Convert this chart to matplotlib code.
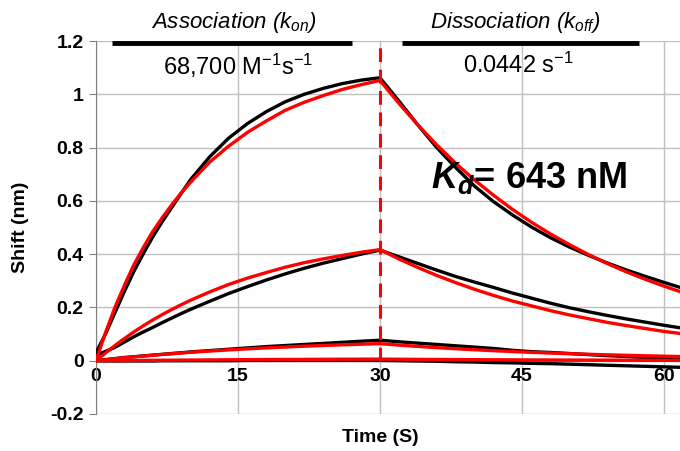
import matplotlib
matplotlib.use("Agg")
import matplotlib.pyplot as plt
import numpy as np

plt.rcParams['font.family'] = ['Liberation Sans', 'DejaVu Sans']
plt.rcParams['mathtext.fontset'] = 'custom'
plt.rcParams['mathtext.rm'] = 'Liberation Sans'
plt.rcParams['mathtext.it'] = 'Liberation Sans:italic'
plt.rcParams['mathtext.bf'] = 'Liberation Sans:bold'
plt.rcParams['mathtext.bfit'] = 'Liberation Sans:bold:italic'

# time axis (s)
t_assoc = [0, 1, 2, 3, 4, 5, 6, 7, 8, 9, 10, 12, 14, 16, 18, 20, 22, 24, 26, 28, 30]
t_dissoc = [30, 32, 34, 36, 38, 40, 42, 44, 46, 48, 50, 52, 54, 56, 58, 60, 62]

# measured (black) traces, highest to lowest concentration
data_assoc = [
    [0.03, 0.1, 0.18, 0.26, 0.335, 0.402, 0.465, 0.522, 0.575, 0.628, 0.68, 0.765, 0.835, 0.89, 0.935, 0.972, 1.0, 1.022, 1.04, 1.053, 1.062],
    [0.02, 0.035, 0.05, 0.07, 0.09, 0.108, 0.125, 0.143, 0.16, 0.177, 0.193, 0.223, 0.252, 0.278, 0.303, 0.326, 0.347, 0.366, 0.383, 0.4, 0.415],
    [0.0, 0.004, 0.008, 0.012, 0.015, 0.018, 0.021, 0.024, 0.027, 0.030, 0.033, 0.038, 0.043, 0.048, 0.053, 0.057, 0.061, 0.065, 0.069, 0.073, 0.077],
    [0.0, -0.001, -0.001, -0.001, -0.001, -0.001, -0.001, 0.0, 0.0, 0.0, 0.0, 0.0, 0.0, 0.001, 0.001, 0.001, 0.001, 0.001, 0.001, 0.001, 0.001],
]
data_dissoc = [
    [1.062, 0.975, 0.885, 0.80, 0.725, 0.655, 0.597, 0.547, 0.502, 0.462, 0.427, 0.396, 0.367, 0.341, 0.317, 0.294, 0.272],
    [0.415, 0.39, 0.365, 0.34, 0.316, 0.295, 0.275, 0.254, 0.235, 0.216, 0.199, 0.184, 0.17, 0.157, 0.145, 0.133, 0.122],
    [0.077, 0.071, 0.066, 0.061, 0.056, 0.051, 0.046, 0.039, 0.034, 0.031, 0.027, 0.023, 0.019, 0.016, 0.012, 0.009, 0.006],
    [0.001, 0.0, -0.001, -0.002, -0.004, -0.005, -0.007, -0.008, -0.010, -0.011, -0.013, -0.015, -0.017, -0.019, -0.021, -0.023, -0.025],
]

# global fit (red)
fit_assoc = [
    [0.0, 0.105, 0.2, 0.283, 0.36, 0.425, 0.485, 0.537, 0.585, 0.63, 0.67, 0.745, 0.805, 0.857, 0.9, 0.94, 0.97, 0.995, 1.018, 1.036, 1.052],
    [0.0, 0.029, 0.057, 0.083, 0.108, 0.131, 0.153, 0.173, 0.192, 0.21, 0.227, 0.258, 0.286, 0.31, 0.331, 0.351, 0.368, 0.382, 0.395, 0.407, 0.417],
    [0.0, 0.0038, 0.0075, 0.011, 0.0144, 0.0175, 0.0206, 0.0235, 0.0263, 0.029, 0.0316, 0.0363, 0.0406, 0.0445, 0.0481, 0.0514, 0.0545, 0.0571, 0.0597, 0.0619, 0.064],
    [0.0, 0.0003, 0.0005, 0.0008, 0.001, 0.0013, 0.0015, 0.0018, 0.002, 0.0023, 0.0025, 0.003, 0.0035, 0.004, 0.0043, 0.0047, 0.005, 0.0053, 0.0056, 0.0058, 0.006],
]
fit_dissoc = [
    [1.052, 0.966, 0.885, 0.81, 0.741, 0.678, 0.621, 0.568, 0.52, 0.476, 0.436, 0.399, 0.365, 0.334, 0.306, 0.28, 0.256],
    [0.417, 0.382, 0.35, 0.32, 0.293, 0.268, 0.245, 0.224, 0.206, 0.188, 0.172, 0.158, 0.144, 0.132, 0.121, 0.11, 0.101],
    [0.064, 0.0586, 0.0536, 0.0491, 0.0449, 0.0411, 0.0376, 0.0345, 0.0315, 0.0289, 0.0264, 0.0242, 0.0221, 0.0203, 0.0186, 0.017, 0.0156],
    [0.006, 0.0055, 0.005, 0.0046, 0.0042, 0.0039, 0.0036, 0.0033, 0.003, 0.0028, 0.0025, 0.0023, 0.0021, 0.002, 0.0018, 0.0017, 0.0015],
]

x_ticks = [0, 15, 30, 45, 60]
y_ticks = [-0.2, 0, 0.2, 0.4, 0.6, 0.8, 1, 1.2]
y_labels = ['-0.2', '0', '0.2', '0.4', '0.6', '0.8', '1', '1.2']

fig = plt.figure(figsize=(6.8, 4.51), dpi=100)
ax = fig.add_axes([96 / 680, 1 - 414 / 451, 1 - 96 / 680, (414 - 41) / 451])

# x axis sits on y=0 (set before ticks, it resets them)
for s in ['top', 'right']:
    ax.spines[s].set_visible(False)
ax.spines['left'].set_color('#808080')
ax.spines['bottom'].set_position(('data', 0))
ax.spines['bottom'].set_color('#808080')

for i in range(len(data_assoc)):
    ax.plot(t_assoc + t_dissoc[1:], data_assoc[i] + data_dissoc[i][1:], color='black', lw=2.4,
            solid_joinstyle='round', zorder=3)
for i in range(len(fit_assoc)):
    ax.plot(t_assoc + t_dissoc[1:], fit_assoc[i] + fit_dissoc[i][1:], color='#ff0000', lw=2.4,
            solid_joinstyle='round', zorder=4)

ax.plot([30, 30], [0, 1.2], color='#ff0000', lw=2.2, dashes=(4.5, 2.5), zorder=5)

ax.set_xlim(0, 61.7)
ax.set_ylim(-0.2, 1.2)
ax.set_xticks(x_ticks)
ax.set_xticklabels([str(v) for v in x_ticks], fontweight='bold', fontsize=14)
ax.set_yticks(y_ticks)
ax.set_yticklabels(y_labels, fontweight='bold', fontsize=14)
ax.grid(True, color='#c0c0c0', lw=1)
ax.set_axisbelow(True)
ax.tick_params(axis='y', length=5, color='#808080', pad=4)
ax.tick_params(axis='x', length=0, pad=5)

ax.set_ylabel('Shift (nm)', fontweight='bold', fontsize=14)
ax.yaxis.set_label_coords(-0.115, 0.5)
fig.text(380 / 680, 1 - 437 / 451, 'Time (S)', fontweight='bold', fontsize=14,
         ha='center', va='center')

# phase bars and rate constants
ax.plot([1.7, 27.0], [1.193, 1.193], color='black', lw=3.5, solid_capstyle='butt', clip_on=False, zorder=6)
ax.plot([32.3, 57.4], [1.193, 1.193], color='black', lw=3.5, solid_capstyle='butt', clip_on=False, zorder=6)
ax.text(14.6, 1.27, r'Association ($k_{on}$)', style='italic', fontsize=16, ha='center', va='center',
        clip_on=False)
ax.text(44.3, 1.27, r'Dissociation ($k_{off}$)', style='italic', fontsize=16, ha='center', va='center',
        clip_on=False)
ax.text(15.0, 1.107, r'68,700 M$^{-1}$s$^{-1}$', fontsize=17, ha='center', va='center')
ax.text(44.6, 1.107, r'0.0442 s$^{-1}$', fontsize=17, ha='center', va='center')
ax.text(45.7, 0.686, r'$\mathbfit{K_d}$= 643 nM', fontsize=26, fontweight='bold', ha='center', va='center',
        zorder=7)

fig.savefig('out.png', dpi=100)
